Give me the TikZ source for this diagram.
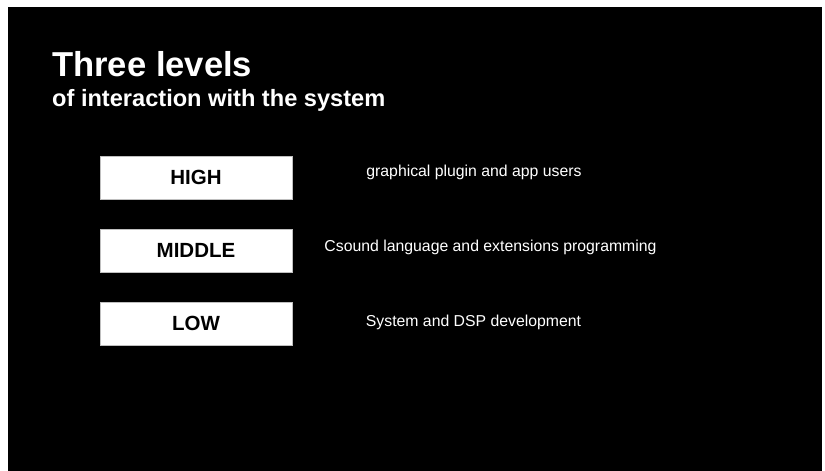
\documentclass[tikz,border=0pt]{standalone}
\usepackage{fontspec}
\setmainfont{Liberation Sans}
\begin{document}
\begin{tikzpicture}[x=1pt,y=-1pt,
  level/.style={draw=gray!50, line width=0.6pt, fill=white, minimum width=192pt, minimum height=43pt, inner sep=0pt, font=\fontsize{20.5}{23}\selectfont\bfseries, text=black},
  desc/.style={text=white, font=\fontsize{15.8}{18}\selectfont, inner sep=0pt}]
\useasboundingbox (0,0) rectangle (825,471);
\fill[white] (0,0) rectangle (825,471);
\fill[black] (8,7) rectangle (822,471);
\node[anchor=base west, inner sep=0pt, text=white, font=\fontsize{34.6}{40}\selectfont\bfseries] (title) at (52,76) {Three levels};
\node[anchor=base west, inner sep=0pt, text=white, font=\fontsize{23.6}{28}\selectfont\bfseries] (sub) at (52,106) {of interaction with the system};
\node[level] (high) at (196,177.5) {HIGH};
\node[level] (mid) at (196,250.5) {MIDDLE};
\node[level] (low) at (196,323.5) {LOW};
\node[desc] (dh) at (474,172.5) {graphical plugin and app users};
\node[desc] (dm) at (490.5,247.5) {Csound language and extensions programming};
\node[desc] (dl) at (473.5,322.5) {System and DSP development};
\end{tikzpicture}
\end{document}
